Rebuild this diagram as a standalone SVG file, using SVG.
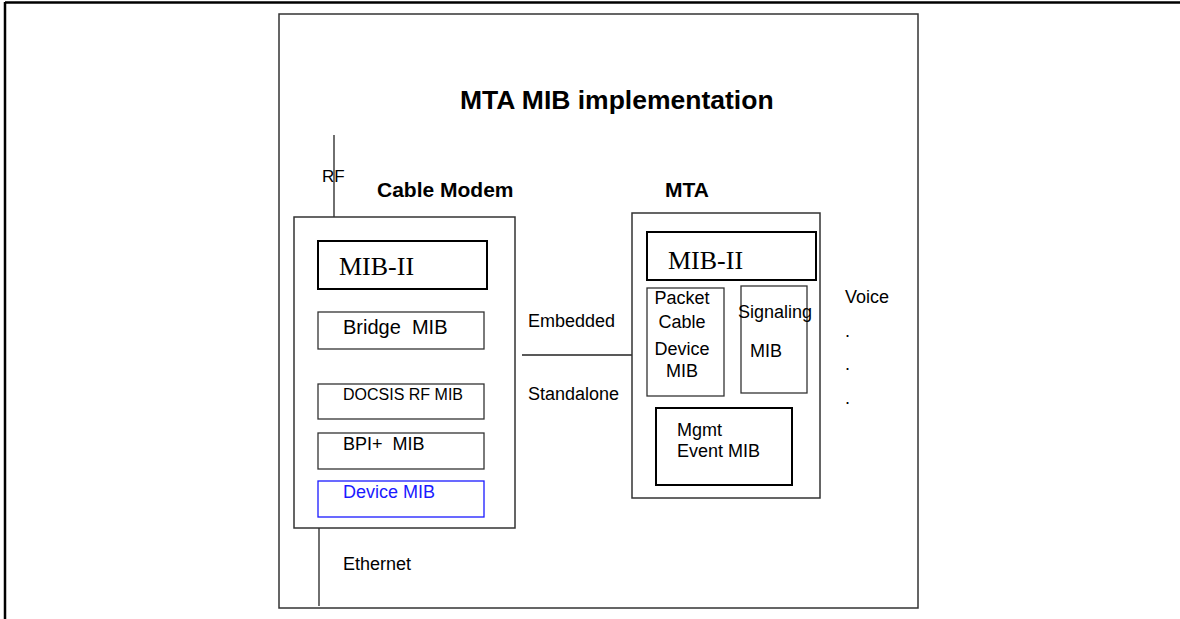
<svg xmlns="http://www.w3.org/2000/svg" width="1180" height="619" viewBox="0 0 1180 619">
<style>
  text { font-family: "Liberation Sans", Arial, sans-serif; fill: #000; }
  .serif { font-family: "Liberation Serif", "Times New Roman", serif; font-size: 26px; }
  .bold { font-weight: bold; }
  .lbl { font-size: 18px; }
  .thin { fill: #fff; stroke: #333; stroke-width: 1.3; }
  .thick { fill: #fff; stroke: #000; stroke-width: 2; }
  .frame { fill: none; stroke: #333; stroke-width: 1.5; }
  .wire { stroke: #222; stroke-width: 1.3; fill: none; }
</style>
<rect x="0" y="0" width="1180" height="619" fill="#fff"/>
<g id="outer-frame">
  <line x1="5" y1="2.5" x2="1180" y2="2.5" stroke="#000" stroke-width="2.5"/>
  <line x1="5" y1="2" x2="5" y2="619" stroke="#000" stroke-width="2.5"/>
</g>
<g id="inner-frame">
  <rect class="frame" x="279" y="14" width="639" height="594"/>
</g>
<g id="title">
  <text class="bold" x="460" y="109" font-size="26.5">MTA MIB implementation</text>
</g>
<g id="connectors">
  <line class="wire" x1="334" y1="135" x2="334" y2="217"/>
  <line class="wire" x1="319" y1="528" x2="319" y2="606"/>
  <line class="wire" x1="522" y1="355" x2="632" y2="355"/>
</g>
<g id="labels">
  <text x="322" y="182" font-size="17">RF</text>
  <text class="bold" x="377" y="197" font-size="21">Cable Modem</text>
  <text class="bold" x="665" y="197" font-size="21">MTA</text>
  <text class="lbl" x="343" y="570">Ethernet</text>
  <text class="lbl" x="528" y="327">Embedded</text>
  <text class="lbl" x="528" y="400">Standalone</text>
  <text class="lbl" x="845" y="303">Voice</text>
  <text class="lbl" x="845" y="337">.</text>
  <text class="lbl" x="845" y="370">.</text>
  <text class="lbl" x="845" y="404">.</text>
</g>
<g id="cable-modem">
  <rect class="frame" x="294" y="217" width="221" height="311"/>
</g>
<g id="cm-mib2">
  <rect class="thick" x="318" y="241" width="169" height="48"/>
  <text class="serif" x="339" y="275">MIB-II</text>
</g>
<g id="cm-bridge">
  <rect class="thin" x="318" y="312" width="166" height="37"/>
  <text x="343" y="334" font-size="20" xml:space="preserve">Bridge  MIB</text>
</g>
<g id="cm-docsis">
  <rect class="thin" x="318" y="384" width="166" height="35"/>
  <text x="343" y="400" font-size="16">DOCSIS RF MIB</text>
</g>
<g id="cm-bpi">
  <rect class="thin" x="318" y="433" width="166" height="36"/>
  <text class="lbl" x="343" y="450" xml:space="preserve">BPI+  MIB</text>
</g>
<g id="cm-device">
  <rect x="318" y="481" width="166" height="36" fill="#fff" stroke="#1a1aff" stroke-width="1.3"/>
  <text class="lbl" x="343" y="498" style="fill:#1a1aff">Device MIB</text>
</g>
<g id="mta">
  <rect class="frame" x="632" y="213" width="188" height="285"/>
</g>
<g id="mta-mib2">
  <rect class="thick" x="647" y="232" width="169" height="48"/>
  <text class="serif" x="668" y="269">MIB-II</text>
</g>
<g id="mta-packetcable">
  <rect class="thin" x="647" y="288" width="77" height="108"/>
  <text class="lbl" x="682" y="304" text-anchor="middle">Packet</text>
  <text class="lbl" x="682" y="328" text-anchor="middle">Cable</text>
  <text class="lbl" x="682" y="355" text-anchor="middle">Device</text>
  <text class="lbl" x="682" y="377" text-anchor="middle">MIB</text>
</g>
<g id="mta-signaling">
  <rect class="thin" x="741" y="286" width="66" height="107"/>
  <text class="lbl" x="738" y="318">Signaling</text>
  <text class="lbl" x="750" y="357">MIB</text>
</g>
<g id="mta-mgmt">
  <rect class="thick" x="656" y="408" width="136" height="77"/>
  <text class="lbl" x="677" y="436">Mgmt</text>
  <text class="lbl" x="677" y="457">Event MIB</text>
</g>
</svg>
